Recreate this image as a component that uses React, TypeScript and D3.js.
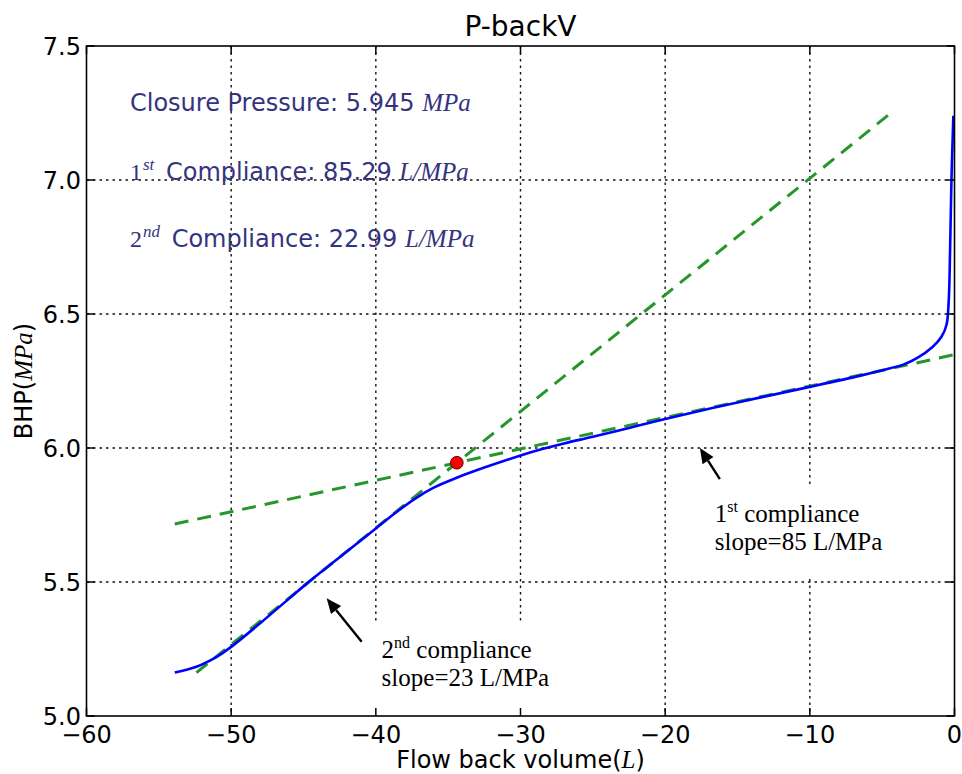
import React from 'react';
import * as d3 from 'd3';

// Measured flow-back curve: volume (L) vs bottom-hole pressure (MPa)
const flowBackVolume = [
  -53.9, -52.4, -51.0, -50.0, -48.0, -46.0, -44.8, -42.0, -40.0, -38.5, -37.2,
  -36.0, -34.5, -32.6, -30.0, -28.5, -27.0, -25.0, -22.5, -20.0, -15.0, -10.0,
  -6.5, -5.0, -3.5, -2.6, -1.5, -0.9, -0.55, -0.4, -0.3, -0.21, -0.08,
];
const bottomHolePressure = [
  5.162, 5.184, 5.221, 5.258, 5.346, 5.438, 5.493, 5.614, 5.7, 5.764, 5.814,
  5.852, 5.887, 5.925, 5.972, 5.996, 6.017, 6.042, 6.075, 6.108, 6.17, 6.228,
  6.27, 6.29, 6.312, 6.335, 6.378, 6.415, 6.46, 6.55, 6.75, 7.0, 7.24,
];

// Closure point and the two compliance fits through it
const closureVolume = -34.4;
const closurePressure = 5.945;
const compliance1 = 85.29; // L/MPa
const compliance2 = 22.99; // L/MPa
const fit1Range = [-53.9, 0];
const fit2Range = [-52.4, -4.15];

const xTicks = [-60, -50, -40, -30, -20, -10, 0];
const yTicks = [5.0, 5.5, 6.0, 6.5, 7.0, 7.5];

// Annotation anchors (data coordinates): arrow tip, arrow tail, text start
const notes = [
  { ord: '1', sup: 'st', slope: 'slope=85 L/MPa', tip: [-17.6, 6.0], tail: [-16.22, 5.884], text: [-16.57, 5.724] },
  { ord: '2', sup: 'nd', slope: 'slope=23 L/MPa', tip: [-43.4, 5.439], tail: [-40.98, 5.277], text: [-39.6, 5.216] },
];

const W = 962;
const H = 774;
const left = 86.5;
const right = 954.5;
const top = 46;
const bottom = 716;

const sans = '"DejaVu Sans", sans-serif';
const serif = '"Liberation Serif", "Times New Roman", serif';
const infoColor = '#34347e';

const fmtX = (d: number) => (d < 0 ? '\u2212' + Math.abs(d) : String(d));

export default function App() {
  const x = d3.scaleLinear().domain([-60, 0]).range([left, right]);
  const y = d3.scaleLinear().domain([5, 7.5]).range([bottom, top]);

  const pts: [number, number][] = flowBackVolume.map((v, i) => [v, bottomHolePressure[i]]);
  const curve = d3
    .line<[number, number]>()
    .x((d) => x(d[0]))
    .y((d) => y(d[1]))
    .curve(d3.curveCatmullRom.alpha(0.5))(pts) as string;

  const fitLine = (c: number, range: number[]) => {
    const f = (v: number) => closurePressure + (v - closureVolume) / c;
    return d3
      .line<number>()
      .x((v) => x(v))
      .y((v) => y(f(v)))(range) as string;
  };

  const tick = 8;

  return (
    <svg
      width={W}
      height={H}
      viewBox={`0 0 ${W} ${H}`}
      style={{ position: 'absolute', left: 0, top: 0, background: '#fff' }}
    >
      <rect x={0} y={0} width={W} height={H} fill="#fff" />

      {/* grid */}
      <g stroke="#111" strokeWidth={1.4} strokeDasharray="2.5,4">
        {xTicks.slice(1, -1).map((t) => (
          <line key={'gx' + t} x1={x(t)} x2={x(t)} y1={top} y2={bottom} />
        ))}
        {yTicks.slice(1, -1).map((t) => (
          <line key={'gy' + t} x1={left} x2={right} y1={y(t)} y2={y(t)} />
        ))}
      </g>

      {/* white boxes behind the slope notes */}
      {notes.map((n, i) => (
        <rect
          key={'box' + i}
          x={x(n.text[0]) - 12}
          y={y(n.text[1]) - 37}
          width={200}
          height={91}
          fill="#fff"
        />
      ))}

      {/* compliance fits */}
      <g fill="none" stroke="#24962a" strokeWidth={3} strokeDasharray="14,9">
        <path d={fitLine(compliance1, fit1Range)} />
        <path d={fitLine(compliance2, fit2Range)} />
      </g>

      {/* measured curve */}
      <path d={curve} fill="none" stroke="#0000ff" strokeWidth={2.6} strokeLinejoin="round" />

      {/* closure point */}
      <circle cx={x(closureVolume)} cy={y(closurePressure)} r={6.3} fill="#ff0000" stroke="#5a0000" strokeWidth={1} />

      {/* arrows and slope notes */}
      {notes.map((n, i) => {
        const tx = x(n.tip[0]);
        const ty = y(n.tip[1]);
        const sx = x(n.tail[0]);
        const sy = y(n.tail[1]);
        const ang = Math.atan2(ty - sy, tx - sx);
        const hl = 15;
        const hw = 6.5;
        const bx = tx - hl * Math.cos(ang);
        const by = ty - hl * Math.sin(ang);
        const px = -Math.sin(ang) * hw;
        const py = Math.cos(ang) * hw;
        const lx = x(n.text[0]);
        const ly = y(n.text[1]);
        return (
          <g key={'note' + i}>
            <line x1={sx} y1={sy} x2={bx} y2={by} stroke="#000" strokeWidth={2.4} />
            <polygon points={`${tx},${ty} ${bx + px},${by + py} ${bx - px},${by - py}`} fill="#000" />
            <text x={lx} y={ly} fontFamily={serif} fontSize={25} fill="#000">
              {n.ord}
              <tspan fontSize={16} dy={-10}>{n.sup}</tspan>
              <tspan dy={10}> compliance</tspan>
            </text>
            <text x={lx} y={ly + 28} fontFamily={serif} fontSize={25} fill="#000">
              {n.slope}
            </text>
          </g>
        );
      })}

      {/* fit summary */}
      <g fill={infoColor} fontFamily={sans} fontSize={24}>
        <text x={130} y={111}>
          Closure Pressure: {closurePressure.toFixed(3)}{' '}
          <tspan fontFamily={serif} fontStyle="italic" fontSize={25}>MPa</tspan>
        </text>
        <text x={130} y={180}>
          <tspan fontFamily={serif} fontSize={24}>1</tspan>
          <tspan fontFamily={serif} fontStyle="italic" fontSize={17} dy={-10} dx={1}>st</tspan>
          <tspan dy={10} dx={4}> Compliance: {compliance1.toFixed(2)} </tspan>
          <tspan fontFamily={serif} fontStyle="italic" fontSize={25}>L/MPa</tspan>
        </text>
        <text x={130} y={247}>
          <tspan fontFamily={serif} fontSize={24}>2</tspan>
          <tspan fontFamily={serif} fontStyle="italic" fontSize={17} dy={-10} dx={1}>nd</tspan>
          <tspan dy={10} dx={4}> Compliance: {compliance2.toFixed(2)} </tspan>
          <tspan fontFamily={serif} fontStyle="italic" fontSize={25}>L/MPa</tspan>
        </text>
      </g>

      {/* ticks on all four sides, pointing inward */}
      <g stroke="#000" strokeWidth={1.5}>
        {xTicks.map((t) => (
          <g key={'tx' + t}>
            <line x1={x(t)} x2={x(t)} y1={bottom} y2={bottom - tick} />
            <line x1={x(t)} x2={x(t)} y1={top} y2={top + tick} />
          </g>
        ))}
        {yTicks.map((t) => (
          <g key={'ty' + t}>
            <line x1={left} x2={left + tick} y1={y(t)} y2={y(t)} />
            <line x1={right} x2={right - tick} y1={y(t)} y2={y(t)} />
          </g>
        ))}
      </g>

      {/* frame */}
      <rect x={left} y={top} width={right - left} height={bottom - top} fill="none" stroke="#000" strokeWidth={1.6} />

      {/* tick labels */}
      <g fontFamily={sans} fontSize={24} fill="#000">
        {xTicks.map((t) => (
          <text key={'lx' + t} x={x(t)} y={743} textAnchor="middle">
            {fmtX(t)}
          </text>
        ))}
        {yTicks.map((t) => (
          <text key={'ly' + t} x={81} y={y(t) + 9} textAnchor="end">
            {t.toFixed(1)}
          </text>
        ))}
      </g>

      {/* title and axis labels */}
      <text x={(left + right) / 2} y={36} textAnchor="middle" fontFamily={sans} fontSize={28} fill="#000">
        P-backV
      </text>
      <text x={(left + right) / 2} y={768} textAnchor="middle" fontFamily={sans} fontSize={24} fill="#000">
        Flow back volume(
        <tspan fontFamily={serif} fontStyle="italic" fontSize={25}>L</tspan>)
      </text>
      <text
        transform={`translate(32,${(top + bottom) / 2}) rotate(-90)`}
        textAnchor="middle"
        fontFamily={sans}
        fontSize={24}
        fill="#000"
      >
        BHP(
        <tspan fontFamily={serif} fontStyle="italic" fontSize={25}>MPa</tspan>)
      </text>
    </svg>
  );
}
